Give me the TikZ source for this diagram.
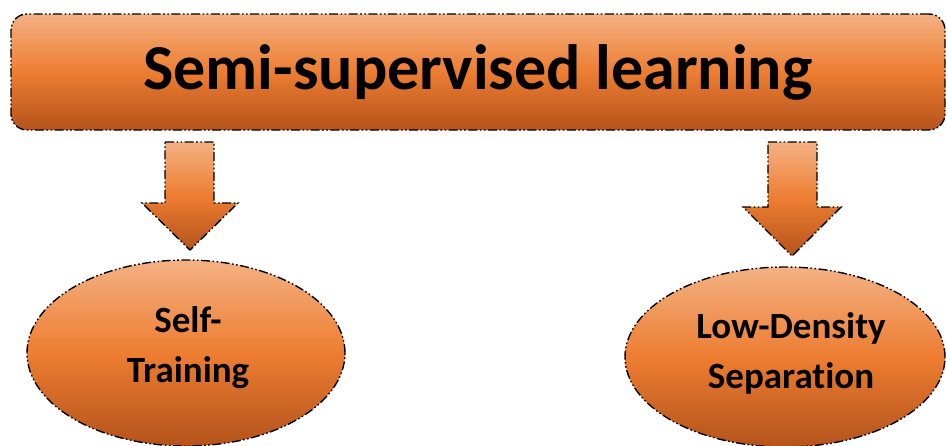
\documentclass[tikz,border=0pt]{standalone}
\usepackage{fontspec}
\setmainfont{Carlito}[Ligatures=NoCommon]
\usetikzlibrary{shapes.geometric}
\definecolor{orTop}{HTML}{F4B183}
\definecolor{orMid}{HTML}{ED7D31}
\definecolor{orBot}{HTML}{B4531C}
\tikzset{
  ddot/.style={draw=black, line width=1.4pt,
    dash pattern=on 9pt off 2.5pt on 1.6pt off 2.5pt on 1.6pt off 2.5pt},
  orshade/.style={top color=orTop, bottom color=orBot, middle color=orMid},
  titlebox/.style={ddot, orshade, rectangle, rounded corners=16pt,
    minimum width=934pt, minimum height=116pt, inner sep=0pt,
    font=\bfseries\fontsize{64}{70}\selectfont},
  leaf/.style={ddot, orshade, ellipse, inner sep=0pt},
  leaftext/.style={inner sep=0pt, align=center,
    font=\bfseries\fontsize{37}{50}\selectfont},
}
\begin{document}
\begin{tikzpicture}[x=1pt,y=-1pt]
\useasboundingbox (0,0) rectangle (946,445);
% top banner
\node[titlebox] (title) at (478,72) {Semi-supervised learning};
% lower ovals
\node[leaf, minimum width=318pt, minimum height=186pt] (self) at (186,353) {};
\node[leaftext] (selft) at (188,348) {Self-\\Training};
\node[leaf, minimum width=320pt, minimum height=180pt] (lds) at (785,357) {};
\node[leaftext] (ldst) at (791,353) {Low-Density\\Separation};
% block arrows
\shade[ddot, orshade] (165,142) -- (214,142) -- (214,203) -- (238,203)
  -- (190,250) -- (142,203) -- (165,203) -- cycle;
\shade[ddot, orshade] (768,142) -- (817,142) -- (817,207) -- (841,207)
  -- (792,256) -- (743,207) -- (768,207) -- cycle;
\end{tikzpicture}
\end{document}
